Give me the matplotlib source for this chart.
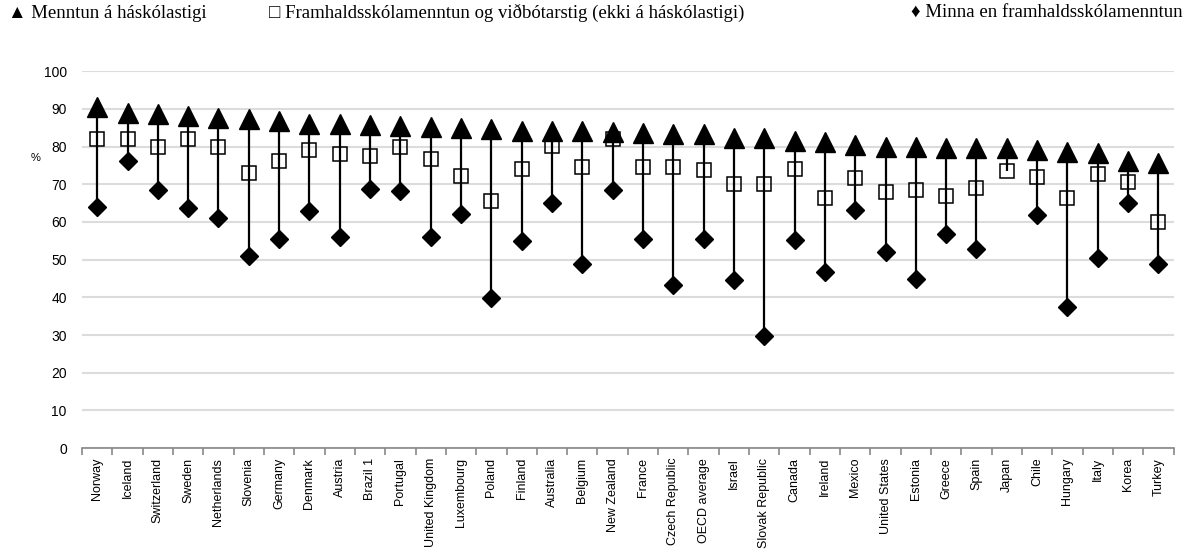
import numpy as np
import matplotlib.pyplot as plt

# share of population (%) by education level
countries = ['Norway', 'Iceland', 'Switzerland', 'Sweden', 'Netherlands', 'Slovenia',
             'Germany', 'Denmark', 'Austria', 'Brazil 1', 'Portugal', 'United Kingdom',
             'Luxembourg', 'Poland', 'Finland', 'Australia', 'Belgium', 'New Zealand',
             'France', 'Czech Republic', 'OECD average', 'Israel', 'Slovak Republic',
             'Canada', 'Ireland', 'Mexico', 'United States', 'Estonia', 'Greece',
             'Spain', 'Japan', 'Chile', 'Hungary', 'Italy', 'Korea', 'Turkey']

tertiary = [90.4, 89.0, 88.7, 88.1, 87.7, 87.4, 86.9, 85.9, 85.9, 85.7, 85.4, 85.2,
            85.0, 84.7, 84.2, 84.0, 84.0, 83.8, 83.6, 83.4, 83.2, 82.3, 82.2,
            81.4, 81.3, 80.5, 80.0, 79.9, 79.7, 79.7, 79.5, 79.2, 78.5, 78.3, 76.3, 75.6]

upper_sec = [81.9, 82.0, 80.0, 82.1, 80.0, 73.1, 76.2, 79.1, 77.9, 77.5, 80.0, 76.8,
             72.3, 65.5, 74.1, 80.1, 74.6, 82.1, 74.5, 74.6, 73.8, 70.1, 70.0,
             74.1, 66.4, 71.6, 68.0, 68.6, 67.0, 68.9, 73.5, 72.0, 66.3, 72.6, 70.6, 60.1]

below_sec = [64.0, 76.2, 68.4, 63.8, 61.1, 51.1, 55.4, 62.9, 56.1, 68.7, 68.1, 56.1,
             62.0, 39.9, 54.9, 65.1, 48.9, 68.5, 55.4, 43.3, 55.5, 44.6, 29.8,
             55.2, 46.8, 63.2, 51.9, 44.8, 56.8, 52.9, np.nan, 61.8, 37.5, 50.4, 65.1, 48.8]

legend_labels = ['Menntun á háskólastigi',
                 'Framhaldsskólamenntun og viðbótarstig (ekki á háskólastigi)',
                 'Minna en framhaldsskólamenntun']

x = np.arange(len(countries))
vals = np.array([tertiary, upper_sec, below_sec])
hi = np.nanmax(vals, axis=0)
lo = np.nanmin(vals, axis=0)

fig = plt.figure(figsize=(11.89, 5.56), dpi=100)
ax = fig.add_axes([0.069, 0.194, 0.918, 0.678])

ax.vlines(x, lo, hi, color='black', lw=1.6, zorder=2)
ax.plot(x, upper_sec, ls='none', marker='s', ms=10.5, mfc='none', mec='black',
        mew=1.1, zorder=3)
ax.plot(x, below_sec, ls='none', marker='D', ms=9.6, color='black', zorder=3)
ax.plot(x, tertiary, ls='none', marker='^', ms=13.7, color='black', zorder=4)

ax.set_ylim(0, 100)
ax.set_xlim(-0.5, len(countries) - 0.5)
ax.set_yticks(range(0, 101, 10))
ax.yaxis.grid(True, color='#dcdcdc', lw=1.5)
ax.set_axisbelow(True)
for s in ['left', 'right', 'top']:
    ax.spines[s].set_visible(False)
ax.spines['bottom'].set_color('#888888')
ax.spines['bottom'].set_linewidth(1.2)

ax.set_xticks(x)
ax.set_xticklabels(countries, rotation=90, fontsize=9, family='Liberation Sans')
ax.set_xticks(np.arange(-0.5, len(countries)), minor=True)
ax.tick_params(axis='x', which='major', length=0, pad=7)
ax.tick_params(axis='x', which='minor', length=5, color='#888888', width=1.2)
ax.tick_params(axis='y', length=0, pad=11, labelsize=10)
for t in ax.get_yticklabels():
    t.set_family('Liberation Sans')

ax.text(-0.043, 0.77, '%', transform=ax.transAxes, fontsize=8,
        family='Liberation Sans', ha='center', va='center')

# legend drawn as plain text across the top, like the original
serif = ['Liberation Serif', 'DejaVu Serif']
fig.text(8 / 1189, 0.976, '▲ ' + legend_labels[0], family=serif, fontsize=13.5,
         ha='left', va='center')
fig.text(507 / 1189, 0.976, '□ ' + legend_labels[1], family=serif, fontsize=13.5,
         ha='center', va='center')
fig.text(1183 / 1189, 0.976, '♦ ' + legend_labels[2], family=serif, fontsize=13.5,
         ha='right', va='center')

fig.savefig('out.png', dpi=100)
